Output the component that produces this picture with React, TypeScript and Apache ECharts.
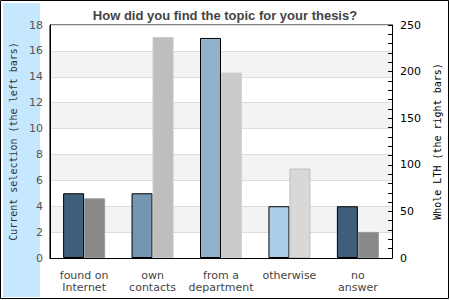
import React, { useEffect, useRef } from "react";
import * as echarts from "echarts";

const categories = ["found on\nInternet", "own\ncontacts", "from a\ndepartment", "otherwise", "no\nanswer"];
const currentSelection = [5, 5, 17, 4, 4];
const wholeLTH = [64, 237, 199, 96, 28];
const leftColors = ["#3e5f7c", "#7496b2", "#8fb1cc", "#abcfea", "#3e5f7c"];
const rightColors = ["#888888", "#bebebe", "#cacaca", "#d8d8d8", "#888888"];
const rightBorders = ["#9a9a9a", "#c8c8c8", "#d2d2d2", "#c0c0c0", "#9a9a9a"];

export default function App() {
  const ref = useRef<HTMLDivElement>(null);
  useEffect(() => {
    document.body.style.margin = "0";
    const chart = echarts.init(ref.current!, null, { renderer: "svg" });
    chart.setOption({
      animation: false,
      backgroundColor: "#fff",
      title: {
        text: "How did you find the topic for your thesis?",
        left: "center",
        top: 4,
        textStyle: { fontFamily: "Liberation Sans", fontSize: 13, fontWeight: "bold", color: "#444" },
      },
      graphic: [
        { type: "rect", z: -10, shape: { x: 0.5, y: 0.5, width: 448, height: 298 }, style: { fill: "#fff", stroke: "#000", lineWidth: 1 } },
        { type: "rect", z: -9, shape: { x: 3, y: 3, width: 37, height: 294 }, style: { fill: "#c6e8ff" } },
      ],
      grid: { left: 40, right: 52, top: 25, bottom: 42, show: true, borderColor: "#000", borderWidth: 1, backgroundColor: "transparent" },
      xAxis: {
        type: "category",
        data: categories,
        axisLine: { lineStyle: { color: "#000" } },
        axisTick: { show: false },
        axisLabel: { color: "#444", fontFamily: "DejaVu Sans", fontSize: 11, lineHeight: 12, margin: 11, interval: 0 },
      },
      yAxis: [
        {
          type: "value",
          min: 0,
          max: 18,
          interval: 2,
          name: "Current selection (the left bars)",
          nameLocation: "middle",
          nameGap: 31,
          nameTextStyle: { fontFamily: "DejaVu Sans Mono", fontSize: 10, color: "#333" },
          axisLine: { show: true, lineStyle: { color: "#000" } },
          axisTick: { show: false },
          axisLabel: { color: "#555", fontFamily: "DejaVu Sans", fontSize: 11, margin: 7 },
          splitLine: { show: true, lineStyle: { color: "#dddddd" } },
          splitArea: { show: true, areaStyle: { color: ["#ffffff", "#f3f3f3"] } },
        },
        {
          type: "value",
          min: 0,
          max: 250,
          interval: 50,
          position: "right",
          name: "Whole LTH (the right bars)",
          nameLocation: "middle",
          nameRotate: 90,
          nameGap: 38,
          nameTextStyle: { fontFamily: "DejaVu Sans Mono", fontSize: 10, color: "#000" },
          axisLine: { show: true, lineStyle: { color: "#000" } },
          axisTick: { show: true, inside: true, length: 4, lineStyle: { color: "#000" } },
          minorTick: { show: true, splitNumber: 5, length: 4, lineStyle: { color: "#000" } },
          axisLabel: { color: "#000", fontFamily: "DejaVu Sans", fontSize: 11, margin: 8 },
          splitLine: { show: false },
        },
      ],
      series: [
        {
          type: "bar",
          yAxisIndex: 0,
          barWidth: 21,
          barGap: "0%",
          data: currentSelection.map((v, i) => ({
            value: v,
            itemStyle: { color: leftColors[i], borderColor: "#000", borderWidth: 1 },
          })),
        },
        {
          type: "bar",
          yAxisIndex: 1,
          barWidth: 21,
          barGap: "0%",
          data: wholeLTH.map((v, i) => ({
            value: v,
            itemStyle: { color: rightColors[i], borderColor: rightBorders[i], borderWidth: 1 },
          })),
        },
      ],
    });
    return () => chart.dispose();
  }, []);
  return <div ref={ref} style={{ width: 450, height: 300 }} />;
}
